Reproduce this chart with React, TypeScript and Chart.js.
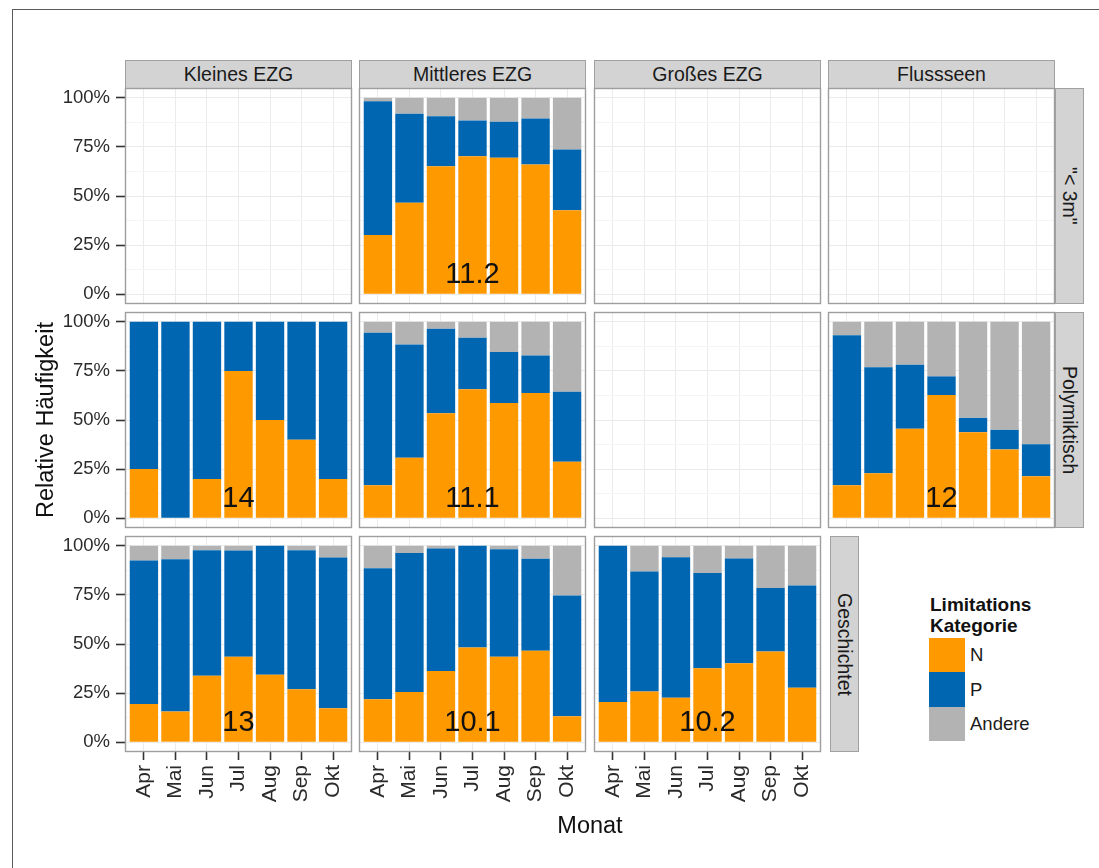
import React, { useEffect, useRef } from "react";
import { Chart, registerables } from "chart.js";
Chart.register(...registerables);

// ---------- data ----------
const months = ["Apr", "Mai", "Jun", "Jul", "Aug", "Sep", "Okt"];
const columnLabels = ["Kleines EZG", "Mittleres EZG", "Großes EZG", "Flussseen"];
const rowLabels = ['"< 3m"', "Polymiktisch", "Geschichtet"];
const seriesNames = ["N", "P", "Andere"];
const seriesColors = ["#FF9900", "#0066B2", "#B3B3B3"];
const yMajorTicks = [0, 25, 50, 75, 100];
const yMinorTicks = [12.5, 37.5, 62.5, 87.5];

// "< 3m" / Mittleres EZG
const flachMittleresN = [30.1, 46.6, 65.2, 70.2, 69.5, 66.1, 42.7];
const flachMittleresP = [68.2, 45.3, 25.4, 18.3, 18.3, 23.4, 31.0];
const flachMittleresA = [1.7, 8.1, 9.4, 11.5, 12.2, 10.5, 26.3];
// Polymiktisch / Kleines EZG
const polyKleinesN = [25, 0, 20, 75, 50, 40, 20];
const polyKleinesP = [75, 100, 80, 25, 50, 60, 80];
const polyKleinesA = [0, 0, 0, 0, 0, 0, 0];
// Polymiktisch / Mittleres EZG
const polyMittleresN = [16.8, 30.8, 53.5, 65.6, 58.6, 63.7, 28.7];
const polyMittleresP = [77.6, 57.7, 43.0, 26.3, 26.0, 19.2, 35.7];
const polyMittleresA = [5.6, 11.5, 3.5, 8.1, 15.4, 17.1, 35.6];
// Polymiktisch / Flussseen
const polyFlussN = [16.8, 22.9, 45.5, 62.7, 43.8, 35.0, 21.4];
const polyFlussP = [76.4, 54.0, 32.6, 9.5, 7.3, 10.0, 16.3];
const polyFlussA = [6.8, 23.1, 21.9, 27.8, 48.9, 55.0, 62.3];
// Geschichtet / Kleines EZG
const geschKleinesN = [19.4, 15.6, 33.8, 43.5, 34.4, 27.0, 17.3];
const geschKleinesP = [73.1, 77.6, 64.0, 54.1, 65.6, 70.8, 76.7];
const geschKleinesA = [7.5, 6.8, 2.2, 2.4, 0, 2.2, 6.0];
// Geschichtet / Mittleres EZG
const geschMittleresN = [21.9, 25.5, 36.3, 48.2, 43.5, 46.5, 13.2];
const geschMittleresP = [66.7, 70.8, 62.3, 51.8, 54.8, 46.9, 61.5];
const geschMittleresA = [11.4, 3.7, 1.4, 0, 1.7, 6.6, 25.3];
// Geschichtet / Großes EZG
const geschGrossN = [20.5, 25.8, 22.6, 37.7, 40.2, 46.2, 27.7];
const geschGrossP = [79.5, 61.1, 71.6, 48.4, 53.3, 32.3, 52.1];
const geschGrossA = [0, 13.1, 5.8, 13.9, 6.5, 21.5, 20.2];

// panel annotations (label, placed at month "Jul", 10 %)
const annotationMonth = "Jul";
const annotationY = 10;

const panels = [
  { row: 0, col: 0, series: null, label: "" },
  { row: 0, col: 1, series: [flachMittleresN, flachMittleresP, flachMittleresA], label: "11.2" },
  { row: 0, col: 2, series: null, label: "" },
  { row: 0, col: 3, series: null, label: "" },
  { row: 1, col: 0, series: [polyKleinesN, polyKleinesP, polyKleinesA], label: "14" },
  { row: 1, col: 1, series: [polyMittleresN, polyMittleresP, polyMittleresA], label: "11.1" },
  { row: 1, col: 2, series: null, label: "" },
  { row: 1, col: 3, series: [polyFlussN, polyFlussP, polyFlussA], label: "12" },
  { row: 2, col: 0, series: [geschKleinesN, geschKleinesP, geschKleinesA], label: "13" },
  { row: 2, col: 1, series: [geschMittleresN, geschMittleresP, geschMittleresA], label: "10.1" },
  { row: 2, col: 2, series: [geschGrossN, geschGrossP, geschGrossA], label: "10.2" },
];

// ---------- layout ----------
const FONT = '"Liberation Sans", Arial, Helvetica, sans-serif';
const colLeft = [125, 359, 594, 828];
const rowTop = [88, 312, 536];
const PW = 227;
const PH = 216;
const PAD = 24;
const AXW = 70;
const AXH = 70;
const TEXT = "#2b2b2b";

const panelBorderPlugin = {
  id: "panelBorder",
  afterDraw(chart: any) {
    const { ctx, chartArea: a } = chart;
    ctx.save();
    ctx.strokeStyle = "#9e9e9e";
    ctx.lineWidth = 1.4;
    ctx.strokeRect(a.left + 0.5, a.top + 0.5, a.right - a.left - 1, a.bottom - a.top - 1);
    ctx.restore();
  },
};

const panelLabelPlugin = {
  id: "panelLabel",
  afterDatasetsDraw(chart: any, _args: any, opts: any) {
    if (!opts || !opts.text) return;
    const { ctx, scales } = chart;
    ctx.save();
    ctx.font = `29px ${FONT}`;
    ctx.fillStyle = "#111";
    ctx.textAlign = "center";
    ctx.textBaseline = "middle";
    ctx.fillText(opts.text, scales.x.getPixelForValue(months.indexOf(annotationMonth)), scales.y.getPixelForValue(annotationY));
    ctx.restore();
  },
};

function Panel({ p }: { p: any }) {
  const ref = useRef<HTMLCanvasElement>(null);
  const axW = p.col === 0 ? AXW : 0;
  const axH = p.row === 2 ? AXH : 0;
  const cw = PW + axW + 2 * PAD;
  const ch = PH + axH + 2 * PAD;
  useEffect(() => {
    const datasets = p.series
      ? p.series.map((vals: number[], k: number) => ({
          label: seriesNames[k],
          data: vals.map((v, i) => ({ x: i, y: v })),
          backgroundColor: seriesColors[k],
          borderWidth: 0,
          stack: "s",
          barPercentage: 0.9,
          categoryPercentage: 1,
        }))
      : [];
    const showX = p.row === 2;
    const showY = p.col === 0;
    const chart = new Chart(ref.current as HTMLCanvasElement, {
      type: "bar",
      data: { datasets },
      options: {
        animation: false,
        responsive: false,
        maintainAspectRatio: false,
        layout: { padding: PAD },
        plugins: {
          legend: { display: false },
          tooltip: { enabled: false },
          panelLabel: { text: p.label },
        } as any,
        scales: {
          x: {
            type: "linear",
            min: -0.6,
            max: 6.6,
            offset: false,
            afterBuildTicks: (s: any) => {
              s.ticks = months.map((_, i) => ({ value: i }));
            },
            afterFit: (s: any) => {
              s.height = axH;
            },
            ticks: {
              display: showX,
              autoSkip: false,
              maxRotation: 90,
              minRotation: 90,
              padding: 5,
              color: TEXT,
              font: { family: FONT, size: 21 },
              callback: (v: any) => months[v],
            },
            grid: {
              offset: false,
              color: "#ebebeb",
              lineWidth: 1,
              drawTicks: showX,
              tickLength: 8,
              tickColor: "#333",
              tickWidth: 1.6,
            },
            border: { display: false },
          },
          y: {
            type: "linear",
            min: -5,
            max: 105,
            stacked: true,
            afterBuildTicks: (s: any) => {
              s.ticks = [...yMajorTicks, ...yMinorTicks].sort((a, b) => a - b).map((v) => ({ value: v }));
            },
            afterFit: (s: any) => {
              s.width = axW;
            },
            ticks: {
              display: showY,
              padding: 6,
              color: TEXT,
              font: { family: FONT, size: 18.5 },
              callback: (v: any) => (yMajorTicks.includes(v) ? `${v}%` : ""),
            },
            grid: {
              color: (c: any) => (c.tick && yMajorTicks.includes(c.tick.value) ? "#ebebeb" : "#f4f4f4"),
              lineWidth: 1,
              drawTicks: showY,
              tickLength: 9,
              tickColor: (c: any) => (c.tick && yMajorTicks.includes(c.tick.value) ? "#333" : "rgba(0,0,0,0)"),
              tickWidth: 1.6,
            },
            border: { display: false },
          },
        },
      } as any,
      plugins: [panelBorderPlugin, panelLabelPlugin],
    });
    return () => chart.destroy();
  }, []);
  return (
    <canvas
      ref={ref}
      width={cw}
      height={ch}
      style={{
        position: "absolute",
        left: colLeft[p.col] - axW - PAD,
        top: rowTop[p.row] - PAD,
        width: cw,
        height: ch,
      }}
    />
  );
}

const stripBase: React.CSSProperties = {
  position: "absolute",
  background: "#d3d3d3",
  border: "1px solid #a0a0a0",
  boxSizing: "border-box",
  display: "flex",
  alignItems: "center",
  justifyContent: "center",
  fontFamily: FONT,
  fontSize: 19.5,
  color: "#1a1a1a",
};

export default function App() {
  const rightStrips = [
    { row: 0, left: 1055 },
    { row: 1, left: 1055 },
    { row: 2, left: 830 },
  ];
  return (
    <div
      style={{
        position: "fixed",
        left: 0,
        top: 0,
        width: 1099,
        height: 868,
        background: "#fff",
        overflow: "hidden",
        fontFamily: FONT,
      }}
    >
      <div
        style={{
          position: "absolute",
          left: 12,
          top: 9,
          width: 1200,
          height: 1000,
          borderLeft: "1.5px solid #5a5a5a",
          borderTop: "1.5px solid #5a5a5a",
        }}
      />
      {columnLabels.map((t, i) => (
        <div key={t} style={{ ...stripBase, left: colLeft[i], top: 60, width: PW, height: 29 }}>
          {t}
        </div>
      ))}
      {rightStrips.map((s) => (
        <div
          key={s.row}
          style={{
            ...stripBase,
            left: s.left,
            top: rowTop[s.row],
            width: 29,
            height: PH,
            writingMode: "vertical-rl",
          }}
        >
          {rowLabels[s.row]}
        </div>
      ))}
      {panels.map((p) => (
        <Panel key={`${p.row}-${p.col}`} p={p} />
      ))}
      <div
        style={{
          position: "absolute",
          left: 30,
          top: rowTop[0],
          width: 32,
          height: rowTop[2] + PH - rowTop[0],
          display: "flex",
          alignItems: "center",
          justifyContent: "center",
          writingMode: "vertical-rl",
          transform: "rotate(180deg)",
          fontSize: 23.5,
          color: "#111",
        }}
      >
        Relative Häufigkeit
      </div>
      <div
        style={{
          position: "absolute",
          left: colLeft[0],
          top: 812,
          width: colLeft[3] + PW - colLeft[0],
          textAlign: "center",
          fontSize: 23.5,
          color: "#111",
        }}
      >
        Monat
      </div>
      <div
        style={{
          position: "absolute",
          left: 930,
          top: 594,
          fontSize: 19,
          fontWeight: "bold",
          lineHeight: "21px",
          color: "#111",
        }}
      >
        Limitations
        <br />
        Kategorie
      </div>
      {seriesNames.map((n, k) => (
        <React.Fragment key={n}>
          <div
            style={{
              position: "absolute",
              left: 929,
              top: 638 + k * 34.4,
              width: 36,
              height: 34.4,
              background: seriesColors[k],
            }}
          />
          <div
            style={{
              position: "absolute",
              left: 970,
              top: 638 + k * 34.4,
              height: 34.4,
              display: "flex",
              alignItems: "center",
              fontSize: 18.5,
              color: "#1a1a1a",
            }}
          >
            {n}
          </div>
        </React.Fragment>
      ))}
    </div>
  );
}
